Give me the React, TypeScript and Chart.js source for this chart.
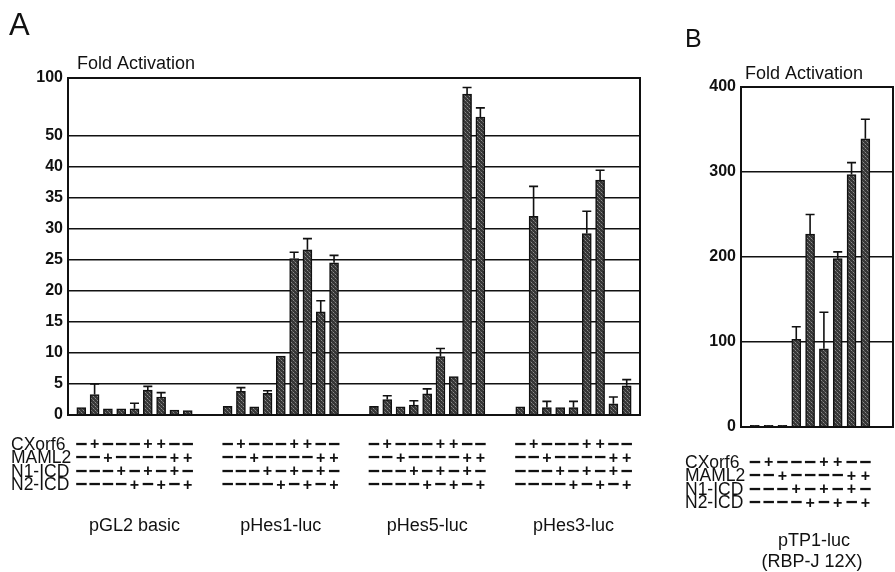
import { useEffect, useRef } from 'react';
import { Chart, registerables } from 'chart.js';

Chart.register(...registerables);

const FONT = '"Liberation Sans", Arial, Helvetica, sans-serif';
const INK = '#111111';

// ---------- data ----------
const conditionNames = ['CXorf6', 'MAML2', 'N1-ICD', 'N2-ICD'];
const conditionSigns = [
  ['−', '+', '−', '−', '−', '+', '+', '−', '−'],
  ['−', '−', '+', '−', '−', '−', '−', '+', '+'],
  ['−', '−', '−', '+', '−', '+', '−', '+', '−'],
  ['−', '−', '−', '−', '+', '−', '+', '−', '+'],
];

const reportersA = ['pGL2 basic', 'pHes1-luc', 'pHes5-luc', 'pHes3-luc'];
const pGL2Values = [1.2, 3.3, 1.0, 1.0, 1.0, 4.0, 2.9, 0.8, 0.7];
const pGL2Errors = [0, 1.7, 0, 0, 0.9, 0.6, 0.7, 0, 0];
const pHes1Values = [1.4, 3.8, 1.3, 3.5, 9.5, 25.2, 26.6, 16.6, 24.5];
const pHes1Errors = [0, 0.6, 0, 0.4, 0, 1.0, 1.8, 1.8, 1.2];
const pHes5Values = [1.4, 2.5, 1.3, 1.6, 3.4, 9.4, 6.2, 86, 66];
const pHes5Errors = [0, 0.6, 0, 0.7, 0.8, 1.3, 0, 5.7, 8];
const pHes3Values = [1.3, 32.0, 1.2, 1.2, 1.2, 29.2, 37.8, 1.8, 4.7];
const pHes3Errors = [0, 4.8, 1.0, 0, 1.0, 3.6, 1.6, 1.1, 1.0];
const yTicksA = [0, 5, 10, 15, 20, 25, 30, 35, 40, 50, 100];
// broken (piecewise) fold-activation axis: [value, axis unit]
const axisBreaksA = [[0, 0], [40, 8], [50, 9], [100, 10.85]];

const reporterB = ['pTP1-luc', '(RBP-J 12X)'];
const pTP1Values = [2, 2, 2, 103, 227, 92, 198, 297, 339];
const pTP1Errors = [0, 0, 0, 15, 23, 43, 8, 14, 23];
const yTicksB = [0, 100, 200, 300, 400];

// ---------- helpers ----------
function toAxisA(v: number) {
  for (let i = 1; i < axisBreaksA.length; i++) {
    const [v0, a0] = axisBreaksA[i - 1];
    const [v1, a1] = axisBreaksA[i];
    if (v <= v1 || i === axisBreaksA.length - 1) return a0 + ((v - v0) * (a1 - a0)) / (v1 - v0);
  }
  return 0;
}
const identity = (v: number) => v;

type Slot = { v: number; e: number } | null;

function buildSlots(groups: number[][], errs: number[][], lead: number, gap: number, trail: number) {
  const slots: Slot[] = [];
  const starts: number[] = [];
  for (let i = 0; i < lead; i++) slots.push(null);
  groups.forEach((vals, gi) => {
    if (gi > 0) for (let i = 0; i < gap; i++) slots.push(null);
    starts.push(slots.length);
    vals.forEach((v, k) => slots.push({ v, e: errs[gi][k] }));
  });
  for (let i = 0; i < trail; i++) slots.push(null);
  return { slots, starts };
}

function makePattern() {
  const pc = document.createElement('canvas');
  pc.width = 4;
  pc.height = 4;
  const p = pc.getContext('2d')!;
  p.fillStyle = '#363636';
  p.fillRect(0, 0, 4, 4);
  p.fillStyle = '#8c8c8c';
  p.fillRect(1, 0, 1, 1);
  p.fillRect(3, 2, 1, 1);
  p.fillStyle = '#606060';
  p.fillRect(0, 3, 1, 1);
  p.fillRect(2, 1, 1, 1);
  const c = document.createElement('canvas').getContext('2d')!;
  return c.createPattern(pc, 'repeat')!;
}

interface PanelOpts {
  canvas: HTMLCanvasElement;
  slots: Slot[];
  toAxis: (v: number) => number;
  ticks: number[];
  yMax: number;
  area: { left: number; top: number; right: number; bottom: number }; // in canvas coords
  yAxisWidth: number;
  tickPadding: number;
  drawTexts: (ctx: CanvasRenderingContext2D, signX: (slot: number) => number) => void;
}

function makePanel(o: PanelOpts) {
  const W = o.canvas.width;
  const H = o.canvas.height;
  const pattern = makePattern();
  const plugin = {
    id: 'panelDecor',
    afterDatasetsDraw(chart: any) {
      const { ctx, chartArea, scales } = chart;
      ctx.save();
      // error bars
      ctx.strokeStyle = INK;
      ctx.lineWidth = 1.6;
      o.slots.forEach((s, i) => {
        if (!s || !s.e) return;
        const x = scales.x.getPixelForValue(i);
        const y0 = scales.y.getPixelForValue(o.toAxis(s.v));
        const y1 = scales.y.getPixelForValue(o.toAxis(s.v + s.e));
        ctx.beginPath();
        ctx.moveTo(x, y0);
        ctx.lineTo(x, y1);
        ctx.moveTo(x - 4.5, y1);
        ctx.lineTo(x + 4.5, y1);
        ctx.stroke();
      });
      // frame
      ctx.lineWidth = 2;
      ctx.strokeRect(chartArea.left, chartArea.top, chartArea.right - chartArea.left, chartArea.bottom - chartArea.top);
      ctx.restore();
    },
    afterDraw(chart: any) {
      const { ctx, scales } = chart;
      ctx.save();
      ctx.fillStyle = INK;
      o.drawTexts(ctx, (slot: number) => scales.x.getPixelForValue(slot));
      ctx.restore();
    },
  };

  return new Chart(o.canvas, {
    type: 'bar',
    data: {
      labels: o.slots.map((_, i) => String(i)),
      datasets: [
        {
          data: o.slots.map((s) => (s ? o.toAxis(s.v) : null)),
          backgroundColor: pattern as any,
          borderColor: INK,
          borderWidth: 1.5,
          barThickness: 9,
        },
      ],
    },
    options: {
      responsive: false,
      animation: false,
      devicePixelRatio: 1,
      events: [],
      layout: {
        padding: {
          left: o.area.left - o.yAxisWidth,
          top: o.area.top,
          right: W - o.area.right,
          bottom: H - o.area.bottom,
        },
      },
      plugins: { legend: { display: false }, tooltip: { enabled: false }, title: { display: false } },
      scales: {
        x: {
          type: 'category',
          offset: false,
          grid: { display: false },
          border: { display: false },
          ticks: { display: false },
          afterFit: (s: any) => {
            s.height = 0;
          },
        },
        y: {
          min: 0,
          max: o.yMax,
          afterBuildTicks: (s: any) => {
            s.ticks = o.ticks.map((v) => ({ value: o.toAxis(v) }));
          },
          afterFit: (s: any) => {
            s.width = o.yAxisWidth;
          },
          ticks: {
            callback: (_v: any, i: number) => String(o.ticks[i]),
            font: { family: FONT, size: 16, weight: 'bold' },
            color: INK,
            padding: o.tickPadding,
          },
          grid: { color: INK, lineWidth: 1.5, drawTicks: false },
          border: { display: true, color: INK, width: 2 },
        },
      },
    },
    plugins: [plugin],
  } as any);
}

function drawSignRows(
  ctx: CanvasRenderingContext2D,
  starts: number[],
  signX: (slot: number) => number,
  rowsY: number[],
  labelX: number
) {
  ctx.textBaseline = 'middle';
  rowsY.forEach((y, r) => {
    ctx.textAlign = 'left';
    ctx.font = `17.5px ${FONT}`;
    ctx.fillText(conditionNames[r], labelX, y);
    ctx.textAlign = 'center';
    starts.forEach((st) => {
      conditionSigns[r].forEach((sg, k) => {
        ctx.font = sg === '+' ? `bold 16px ${FONT}` : `bold 21px ${FONT}`;
        ctx.fillText(sg, signX(st + k), y);
      });
    });
  });
}

export default function App() {
  const refA = useRef<HTMLCanvasElement>(null);
  const refB = useRef<HTMLCanvasElement>(null);

  useEffect(() => {
    const a = buildSlots(
      [pGL2Values, pHes1Values, pHes5Values, pHes3Values],
      [pGL2Errors, pHes1Errors, pHes5Errors, pHes3Errors],
      1,
      2,
      1
    );
    const b = buildSlots([pTP1Values], [pTP1Errors], 1, 0, 2);

    const chartA = makePanel({
      canvas: refA.current!,
      slots: a.slots,
      toAxis: toAxisA,
      ticks: yTicksA,
      yMax: toAxisA(100),
      area: { left: 68, top: 78, right: 640, bottom: 415 },
      yAxisWidth: 68,
      tickPadding: 5,
      drawTexts: (ctx, signX) => {
        ctx.textBaseline = 'middle';
        ctx.textAlign = 'left';
        ctx.font = `31px ${FONT}`;
        ctx.fillText('A', 9, 26);
        ctx.font = `18px ${FONT}`;
        ctx.fillText('Fold Activation', 77, 64);
        drawSignRows(ctx, a.starts, signX, [445, 458.5, 472, 485.5], 11);
        ctx.font = `18px ${FONT}`;
        ctx.textAlign = 'center';
        a.starts.forEach((st, gi) => {
          const cx = (signX(st) + signX(st + 8)) / 2;
          ctx.fillText(reportersA[gi], cx, 526);
        });
      },
    });

    const chartB = makePanel({
      canvas: refB.current!,
      slots: b.slots,
      toAxis: identity,
      ticks: yTicksB,
      yMax: 400,
      area: { left: 81, top: 87, right: 233, bottom: 427 },
      yAxisWidth: 81,
      tickPadding: 5,
      drawTexts: (ctx, signX) => {
        ctx.textBaseline = 'middle';
        ctx.textAlign = 'left';
        ctx.font = `25px ${FONT}`;
        ctx.fillText('B', 25, 40);
        ctx.font = `18px ${FONT}`;
        ctx.fillText('Fold Activation', 85, 74);
        drawSignRows(ctx, b.starts, signX, [463, 476.5, 490, 503.5], 25);
        ctx.font = `18px ${FONT}`;
        ctx.textAlign = 'center';
        ctx.fillText(reporterB[0], 154, 541);
        ctx.fillText(reporterB[1], 152, 562);
      },
    });

    return () => {
      chartA.destroy();
      chartB.destroy();
    };
  }, []);

  return (
    <div
      style={{
        position: 'fixed',
        left: 0,
        top: 0,
        width: 895,
        height: 572,
        background: '#fff',
        overflow: 'hidden',
      }}
    >
      <canvas
        ref={refA}
        width={660}
        height={572}
        style={{ position: 'absolute', left: 0, top: 0, width: 660, height: 572 }}
      />
      <canvas
        ref={refB}
        width={235}
        height={572}
        style={{ position: 'absolute', left: 660, top: 0, width: 235, height: 572 }}
      />
    </div>
  );
}
